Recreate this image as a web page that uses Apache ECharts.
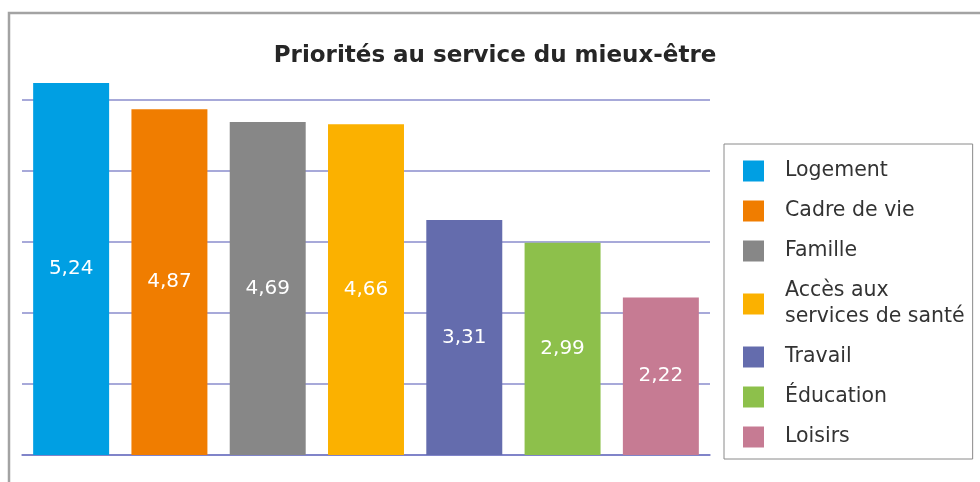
<!DOCTYPE html>
<html>
<head>
<meta charset="utf-8">
<script src="https://cdn.jsdelivr.net/npm/echarts@6/dist/echarts.min.js"></script>
<style>
  html, body { margin: 0; padding: 0; background: #fff; }
  #chart { width: 980px; height: 482px; }
</style>
</head>
<body>
<div id="chart"></div>
<script>
const categories = [
  "Logement",
  "Cadre de vie",
  "Famille",
  "Accès aux\nservices de santé",
  "Travail",
  "Éducation",
  "Loisirs",
];
const values = [5.24, 4.87, 4.69, 4.66, 3.31, 2.99, 2.22];
const colors = ["#009fe3", "#f07d00", "#878787", "#fbb100", "#646cad", "#8dc04b", "#c67b93"];

const FONT = "DejaVu Sans";
const chart = echarts.init(document.getElementById("chart"));

// one series per category so the legend lists each bar; stacked so bars stay centred
const series = categories.map((name, i) => ({
  name,
  type: "bar",
  stack: "all",
  clip: false,
  barCategoryGap: "22.7%",
  itemStyle: { color: colors[i] },
  label: {
    show: true,
    position: "inside",
    color: "#fff",
    fontFamily: FONT,
    fontSize: 20,
    formatter: (p) => (p.value == null ? "" : p.value.toFixed(2).replace(".", ",")),
  },
  data: values.map((v, j) => (j === i ? v : null)),
}));

chart.setOption({
  animation: false,
  title: {
    text: "Priorités au service du mieux-être",
    left: 490,
    top: 40,
    textAlign: "center",
    textStyle: { fontFamily: FONT, fontSize: 23, fontWeight: "bold", color: "#262626" },
  },
  graphic: [
    {
      type: "rect",
      shape: { x: 9, y: 13, width: 1000, height: 500 },
      style: { fill: null, stroke: "#a3a3a3", lineWidth: 2.5 },
      silent: true,
    },
  ],
  legend: {
    orient: "vertical",
    left: 724,
    top: 144,
    padding: [14, 8, 9, 19],
    borderColor: "#8a8a8a",
    borderWidth: 1,
    itemWidth: 21,
    itemHeight: 21,
    itemGap: 14,
    icon: "rect",
    textStyle: { fontFamily: FONT, fontSize: 20.5, color: "#333", lineHeight: 26, padding: [0, 0, 0, 16] },
    data: categories,
  },
  grid: { left: 22, right: 270, top: 100, bottom: 27 },
  xAxis: {
    type: "category",
    data: categories,
    axisLine: { show: true, lineStyle: { color: "#7478c4", width: 1.5 } },
    axisTick: { show: false },
    axisLabel: { show: false },
  },
  yAxis: {
    type: "value",
    min: 0,
    max: 5,
    interval: 1,
    axisLine: { show: false },
    axisTick: { show: false },
    axisLabel: { show: false },
    splitLine: { lineStyle: { color: "#8a8dcc", width: 1.5 } },
  },
  series,
});
</script>
</body>
</html>
